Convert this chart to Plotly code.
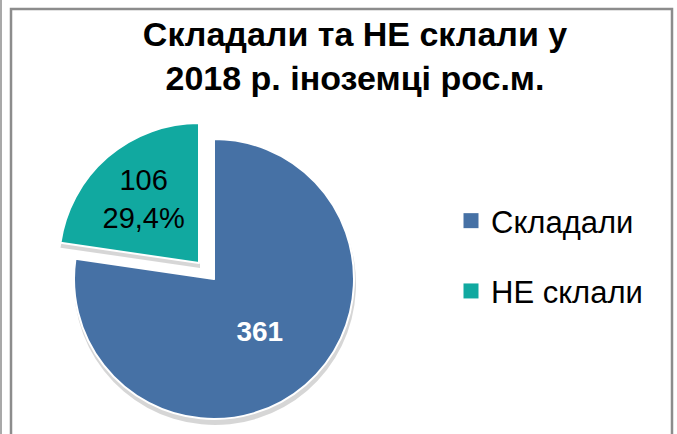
import plotly.graph_objects as go

# ---- data ----
labels = ["Складали", "НЕ склали"]
values = [361, 106]
slice_texts = ["361", "106<br>29,4%"]
title_lines = ["Складали та НЕ склали у", "2018 р. іноземці рос.м."]

# ---- styles ----
BLUE = "#4671A5"
TEAL = "#11A9A0"
CLEAR = "rgba(0,0,0,0)"
SHADOW = "rgba(0,0,0,0.16)"
FONT = "Liberation Sans, Arial, sans-serif"
W, H = 677, 434
R = 140


def dom(cx, cy, r):
    return dict(x=[(cx - r) / W, (cx + r) / W],
                y=[(H - cy - r) / H, (H - cy + r) / H])


common = dict(labels=labels, values=values, sort=False, direction="clockwise",
              rotation=0, showlegend=False, hoverinfo="skip", textinfo="text")

fig = go.Figure()

# shadows
fig.add_trace(go.Pie(**common, domain=dom(215, 284, R + 1),
                     marker=dict(colors=[SHADOW, CLEAR], line=dict(width=0)),
                     text=["", ""]))
fig.add_trace(go.Pie(**common, domain=dom(200, 268, R + 1),
                     marker=dict(colors=[CLEAR, SHADOW], line=dict(width=0)),
                     text=["", ""]))
# main slice (blue)
fig.add_trace(go.Pie(**common, domain=dom(214, 279, R),
                     marker=dict(colors=[BLUE, CLEAR],
                                 line=dict(color=["white", CLEAR], width=2)),
                     text=[slice_texts[0], ""],
                     textposition="inside", insidetextorientation="horizontal",
                     insidetextfont=dict(family=FONT, size=28, color="white", weight="bold")))
# exploded slice (teal)
fig.add_trace(go.Pie(**common, domain=dom(199, 263, R),
                     marker=dict(colors=[CLEAR, TEAL],
                                 line=dict(color=[CLEAR, "white"], width=2)),
                     text=["", slice_texts[1]],
                     textposition="inside", insidetextorientation="horizontal",
                     insidetextfont=dict(family=FONT, size=29, color="black")))

# legend entries
for i, (lab, col) in enumerate(zip(labels, [BLUE, TEAL])):
    fig.add_trace(go.Scatter(x=[None], y=[None], mode="markers", name=lab,
                             legendgroup=f"g{i}",
                             marker=dict(symbol="square", size=15, color=col)))

fig.update_layout(
    width=W, height=H,
    margin=dict(l=0, r=0, t=0, b=0),
    paper_bgcolor="white", plot_bgcolor="white",
    xaxis=dict(visible=False), yaxis=dict(visible=False),
    title=dict(text="<br>".join(title_lines), x=355 / W, xanchor="center",
               yref="container", y=1 - 46 / H, yanchor="top",
               font=dict(family=FONT, size=34, color="black", weight="bold")),
    legend=dict(x=451 / W, xanchor="left", y=1 - 256 / H, yanchor="middle",
                font=dict(family=FONT, size=31, color="black"),
                traceorder="grouped", tracegroupgap=27, bgcolor="rgba(0,0,0,0)"),
    shapes=[
        dict(type="rect", xref="paper", yref="paper",
             x0=11 / W, x1=672 / W, y0=-0.2, y1=1 - 9 / H,
             line=dict(color="#8C8C8C", width=2.5)),
        dict(type="line", xref="paper", yref="paper",
             x0=1 / W, x1=1 / W, y0=-0.2, y1=1.2,
             line=dict(color="#8C8C8C", width=1.5)),
    ],
)

fig.write_html("out.html", config={"displayModeBar": False},
               post_script="document.body.style.margin='0';document.body.style.overflow='hidden';")
